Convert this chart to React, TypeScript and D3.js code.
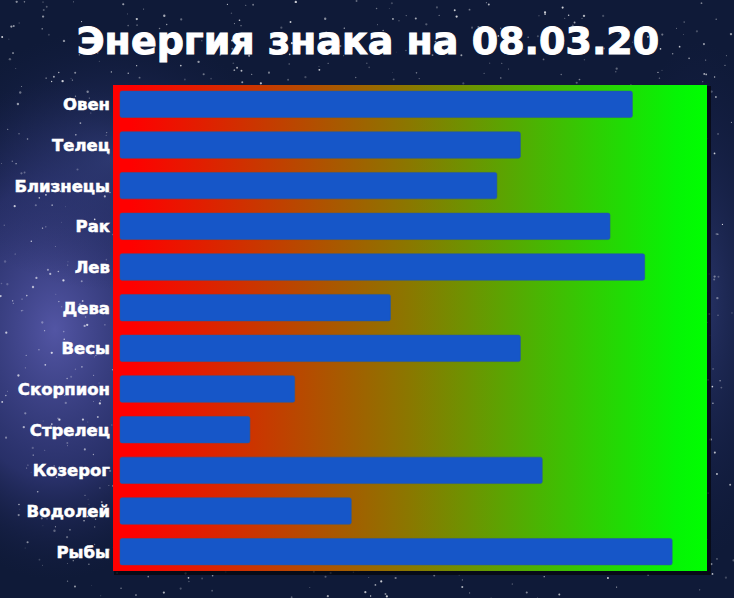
import React from "react";
import * as d3 from "d3";

const categories = ["Овен", "Телец", "Близнецы", "Рак", "Лев", "Дева", "Весы", "Скорпион", "Стрелец", "Козерог", "Водолей", "Рыбы"];
const values = [91.5, 71.5, 67.3, 87.5, 93.7, 48.3, 71.5, 31.2, 23.2, 75.4, 41.3, 98.6];
const title = "Энергия знака на 08.03.20";

const W = 734;
const H = 598;
const plot = { left: 113, right: 707, top: 85, bottom: 571 };

function makeStars(n: number) {
  let s = 12345;
  const rnd = () => {
    s = (s * 1103515245 + 12345) % 2147483648;
    return s / 2147483648;
  };
  const out: { x: number; y: number; r: number; o: number }[] = [];
  for (let i = 0; i < n; i++) {
    out.push({ x: rnd() * W, y: rnd() * H, r: 0.4 + rnd() * 0.8, o: 0.2 + rnd() * 0.6 });
  }
  return out;
}
const stars = makeStars(1300);

export default function App() {
  const y = d3.scaleBand<string>().domain(categories).range([plot.top, plot.bottom]).paddingInner(0.35).paddingOuter(0.15);
  const x = d3.scaleLinear().domain([0, 100]).range([120, 680]);
  const font = "'DejaVu Sans', sans-serif";
  return (
    <div style={{ position: "fixed", left: 0, top: 0, width: W, height: H }}>
      <svg width={W} height={H} viewBox={`0 0 ${W} ${H}`} style={{ display: "block" }}>
        <defs>
          <linearGradient id="plotGrad" x1="0" x2="1" y1="0" y2="0">
            <stop offset="0%" stopColor="#ff0000" />
            <stop offset="3%" stopColor="#ff0000" />
            <stop offset="50%" stopColor="#8a7800" />
            <stop offset="95%" stopColor="#05f505" />
            <stop offset="100%" stopColor="#00ff00" />
          </linearGradient>
          <radialGradient id="neb1" cx="0.5" cy="0.5" r="0.5">
            <stop offset="0%" stopColor="#5a5cb0" stopOpacity="0.9" />
            <stop offset="60%" stopColor="#3d4290" stopOpacity="0.55" />
            <stop offset="100%" stopColor="#1a2250" stopOpacity="0" />
          </radialGradient>
          <radialGradient id="neb2" cx="0.5" cy="0.5" r="0.5">
            <stop offset="0%" stopColor="#34407e" stopOpacity="0.7" />
            <stop offset="100%" stopColor="#1a2250" stopOpacity="0" />
          </radialGradient>
        </defs>
        <rect x={0} y={0} width={W} height={H} fill="#0f1a38" />
        <ellipse cx={55} cy={330} rx={170} ry={250} fill="url(#neb1)" />
        <ellipse cx={110} cy={160} rx={170} ry={130} fill="url(#neb2)" />
        <ellipse cx={700} cy={300} rx={90} ry={260} fill="url(#neb2)" />
        {stars.map((s, i) => (
          <circle key={i} cx={s.x} cy={s.y} r={s.r} fill="#ffffff" opacity={s.o} />
        ))}
        <text x={368} y={54} textAnchor="middle" fill="#ffffff" stroke="#ffffff" strokeWidth={1} fontFamily={font} fontWeight="bold" fontSize={38}>
          {title}
        </text>
        <rect x={plot.left + 1} y={plot.top + 1} width={plot.right - plot.left + 3} height={plot.bottom - plot.top + 3} fill="#05080f" opacity={0.8} />
        <rect x={plot.left} y={plot.top} width={plot.right - plot.left} height={plot.bottom - plot.top} fill="url(#plotGrad)" />
        {categories.map((c, i) => (
          <rect
            key={c}
            x={x(0)}
            y={y(c)!}
            width={x(values[i]) - x(0)}
            height={y.bandwidth()}
            rx={2}
            fill="#1656c8"
            stroke="#2a5a9a"
            strokeWidth={0.6}
          />
        ))}
        {categories.map((c) => (
          <text
            key={c}
            x={110}
            y={y(c)! + y.bandwidth() / 2}
            dy="0.36em"
            textAnchor="end"
            fill="#ffffff"
            stroke="#ffffff"
            strokeWidth={0.5}
            fontFamily={font}
            fontWeight="bold"
            fontSize={16.5}
          >
            {c}
          </text>
        ))}
      </svg>
    </div>
  );
}
